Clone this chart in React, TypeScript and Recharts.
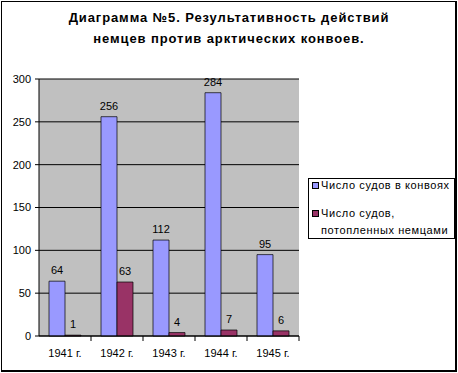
import React from 'react';
import { BarChart, Bar, XAxis, YAxis, CartesianGrid, LabelList } from 'recharts';

const years = ['1941 г.', '1942 г.', '1943 г.', '1944 г.', '1945 г.'];
const convoyShips = [64, 256, 112, 284, 95];
const sunkShips = [1, 63, 4, 7, 6];
const seriesNames = ['Число судов в конвоях', 'Число судов, потопленных немцами'];
const seriesColors = ['#9999ff', '#993366'];
const yTicks = [0, 50, 100, 150, 200, 250, 300];
const titleLines = ['Диаграмма №5. Результативность действий', 'немцев против арктических конвоев.'];

const data = years.map((y, i) => ({ year: y, convoy: convoyShips[i], sunk: sunkShips[i] }));

const FONT = '"Liberation Sans", Arial, sans-serif';

const XTick = (props: any) => {
  const { x, y, payload } = props;
  const half = 26;
  return (
    <g>
      <line x1={x + half} y1={y - 8} x2={x + half} y2={y - 3} stroke="#000" />
      <text x={x} y={y + 13} textAnchor="middle" fontSize={11} fontFamily={FONT} fill="#000">
        {payload.value}
      </text>
    </g>
  );
};

const legendLines = [[seriesNames[0]], ['Число судов,', 'потопленных немцами']];

const LegendBox = () => (
  <div style={{ position: 'absolute', left: 308, top: 178, width: 147, height: 61, border: '1px solid #000', background: '#fff', fontFamily: FONT, fontSize: 11, letterSpacing: 0.6, color: '#000', boxSizing: 'border-box' }}>
    {legendLines.map((lines, i) => (
      <div key={i} style={{ position: 'absolute', left: 3, top: i === 0 ? -2 : 26, lineHeight: '17px' }}>
        {lines.map((l, j) => (
          <div key={j} style={{ display: 'flex', alignItems: 'center', whiteSpace: 'nowrap' }}>
            <span style={{ display: 'inline-block', width: 5, height: 5, border: '1px solid #000', background: seriesColors[i], marginRight: 2, visibility: j === 0 ? 'visible' : 'hidden' }} />
            <span>{l}</span>
          </div>
        ))}
      </div>
    ))}
  </div>
);

export default function App() {
  return (
    <div style={{ position: 'fixed', left: 0, top: 0, width: 458, height: 373, background: '#fff' }}>
      <div style={{ position: 'absolute', left: 0, top: 0 }}>
        <BarChart width={458} height={373} data={data} margin={{ top: 79, right: 159, bottom: 7, left: 0 }} barGap={0} barSize={16}>
          <CartesianGrid vertical={false} stroke="#000" fill="#c0c0c0" />
          <XAxis dataKey="year" tick={<XTick />} tickLine={false} axisLine={{ stroke: '#000' }} height={30} interval={0} />
          <YAxis domain={[0, 300]} ticks={yTicks} width={39} tickSize={4} tickMargin={4} axisLine={{ stroke: '#000' }} tickLine={{ stroke: '#000' }} tick={{ fontSize: 11, fontFamily: FONT, fill: '#000' }} />
          <Bar dataKey="convoy" name={seriesNames[0]} fill={seriesColors[0]} stroke="#000" strokeWidth={0.7} isAnimationActive={false}>
            <LabelList dataKey="convoy" position="top" offset={7} fontSize={11} fontFamily={FONT} fill="#000" />
          </Bar>
          <Bar dataKey="sunk" name={seriesNames[1]} fill={seriesColors[1]} stroke="#000" strokeWidth={0.7} isAnimationActive={false}>
            <LabelList dataKey="sunk" position="top" offset={7} fontSize={11} fontFamily={FONT} fill="#000" />
          </Bar>
        </BarChart>
      </div>
      <div style={{ position: 'absolute', left: 1, top: 1, width: 453, height: 368, borderLeft: '1px solid #000', borderTop: '1px solid #000', borderRight: '2px solid #000', borderBottom: '2px solid #000', pointerEvents: 'none' }} />
      {titleLines.map((t, i) => (
        <div key={i} style={{ position: 'absolute', left: 0, width: 458, top: 10 + i * 21, textAlign: 'center', fontFamily: FONT, fontWeight: 'bold', fontSize: 13, letterSpacing: 0.9, color: '#000' }}>
          {t}
        </div>
      ))}
      <LegendBox />
    </div>
  );
}
